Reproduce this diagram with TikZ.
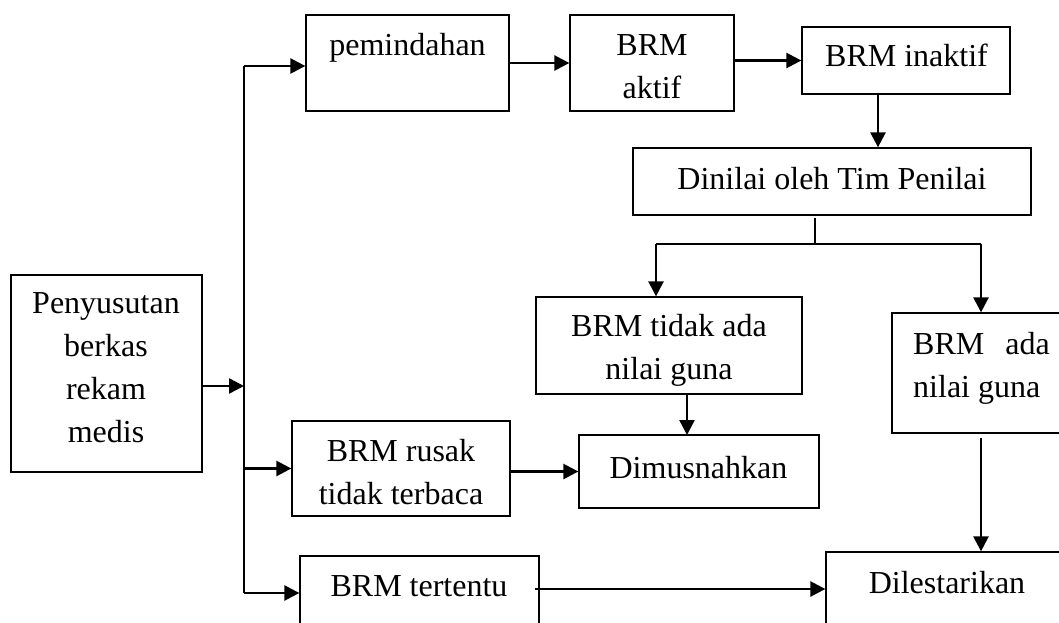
\documentclass[tikz,border=0pt]{standalone}
\usepackage{fontspec}
\setmainfont{Liberation Serif}
\usetikzlibrary{arrows.meta}
\begin{document}
\begin{tikzpicture}[x=1pt,y=-1pt,
  box/.style={draw=black, line width=1.3pt, inner sep=0pt},
  txt/.style={anchor=base, inner sep=0pt, font=\fontsize{32}{43}\selectfont},
  arr/.style={line width=2.5pt, -{Triangle[length=15pt,width=15pt]}},
  thin/.style={line width=1.4pt},
  bar/.style={line width=2.5pt}]
\useasboundingbox (0,0) rectangle (1059,623);
\clip (0,0) rectangle (1059,623);
% boxes
\node[box, minimum width=191pt, minimum height=197pt] (pen) at (106.5,373.5) {};
\node[box, minimum width=203pt, minimum height=96pt] (pem) at (407.5,63) {};
\node[box, minimum width=164pt, minimum height=96pt] (akt) at (652,63) {};
\node[box, minimum width=208pt, minimum height=67pt] (inak) at (906,60.5) {};
\node[box, minimum width=398pt, minimum height=67pt] (din) at (832,181.5) {};
\node[box, minimum width=266pt, minimum height=97pt] (tidak) at (669,345.5) {};
\node[box, minimum width=178pt, minimum height=120pt] (ada) at (981,373) {};
\node[box, minimum width=240pt, minimum height=73pt] (mus) at (699,471.5) {};
\node[box, minimum width=218pt, minimum height=95pt] (rusak) at (401,468.5) {};
\node[box, minimum width=239pt, minimum height=84pt] (tert) at (419.5,598) {};
\node[box, minimum width=242pt, minimum height=88pt] (dil) at (947,596) {};
% texts
\node[txt] (tpen) at (106,313) {\begin{tabular}[t]{@{}c@{}}Penyusutan\\berkas\\rekam\\medis\end{tabular}};
\node[txt] (tpem) at (407.5,56) {pemindahan};
\node[txt] (takt) at (652,56) {\begin{tabular}[t]{@{}c@{}}BRM\\aktif\end{tabular}};
\node[txt] (tinak) at (906.5,67) {BRM inaktif};
\node[txt] (tdin) at (832,189) {Dinilai oleh Tim Penilai};
\node[txt] (ttidak) at (669,336) {\begin{tabular}[t]{@{}c@{}}BRM tidak ada\\nilai guna\end{tabular}};
\node[txt, anchor=base west] (tada) at (913,354) {\begin{tabular}[t]{@{}l@{}}BRM\hspace{13pt} ada\\nilai guna\end{tabular}};
\node[txt] (tmus) at (698.5,478) {Dimusnahkan};
\node[txt] (trusak) at (401,461) {\begin{tabular}[t]{@{}c@{}}BRM rusak\\tidak terbaca\end{tabular}};
\node[txt] (ttert) at (419,596) {BRM tertentu};
\node[txt] (tdil) at (947,593) {Dilestarikan};
% bus coordinates
\coordinate (bt) at (244,66);
\coordinate (bb) at (244,593);
\coordinate (pe) at (pen.east |- 0,386);
% connectors
\draw[thin] (bt) -- (bb);
\draw[arr] (pe) -- (bt |- pe);
\draw[arr] (bt) -- (bt -| pem.west);
\draw[arr] (bt |- rusak.west) -- (rusak.west);
\draw[arr] (bb) -- (bb -| tert.west);
\draw[arr] (pem.east) -- (akt.west);
\draw[arr] (akt.east |- inak.west) -- (inak.west);
\draw[arr] ([xshift=-28pt]inak.south) -- ([xshift=-28pt]inak.south |- din.north);
\coordinate (st) at (815,218);
\coordinate (sb) at (815,244);
\coordinate (bl) at (656,244);
\coordinate (br) at (981,244);
\draw[thin] (st) -- (sb);
\draw[bar] (bl) -- (br);
\draw[arr] (bl) -- (bl |- tidak.north);
\draw[arr] (br) -- (br |- ada.north);
\draw[arr] (687,394) -- (687,435);
\draw[arr] (rusak.east |- mus.west) -- (mus.west);
\draw[arr] ([yshift=-4pt]ada.south) -- (ada.south |- dil.north);
\draw[arr] ([xshift=-5pt]tert.east |- 0,589) -- (dil.west |- 0,589);
\end{tikzpicture}
\end{document}
